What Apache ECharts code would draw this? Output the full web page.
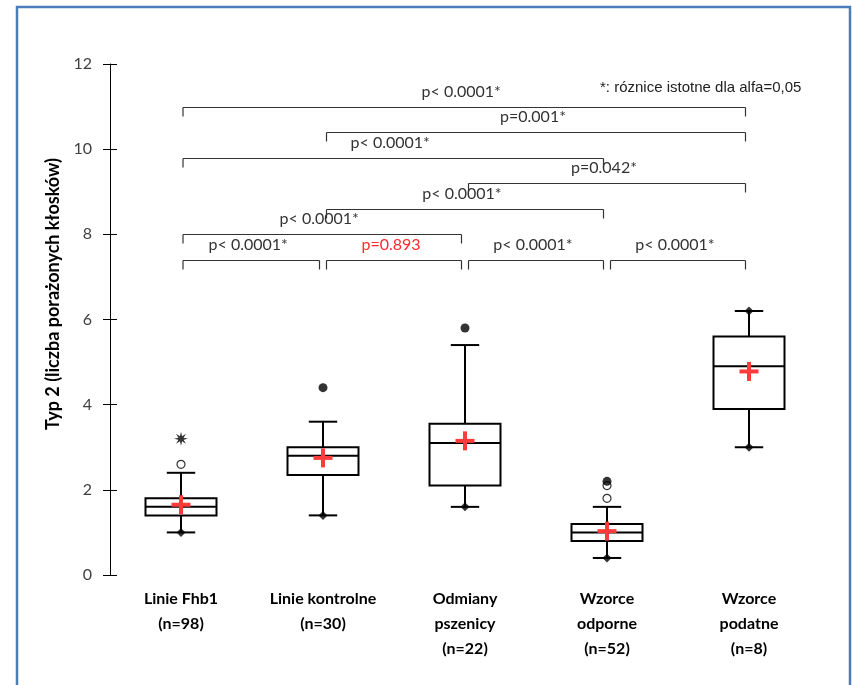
<!DOCTYPE html>
<html>
<head>
<meta charset="utf-8">
<script src="https://cdn.jsdelivr.net/npm/echarts@6/dist/echarts.min.js"></script>
<style>html,body{margin:0;padding:0;background:#fff}#c{width:852px;height:685px}</style>
</head>
<body>
<div id="c"></div>
<script>
// ---- data ----
const categories = ['Linie Fhb1\n(n=98)', 'Linie kontrolne\n(n=30)', 'Odmiany\npszenicy\n(n=22)', 'Wzorce\nodporne\n(n=52)', 'Wzorce\npodatne\n(n=8)'];
const whiskerLow  = [1.0, 1.4, 1.6, 0.4, 3.0];
const q1          = [1.4, 2.35, 2.1, 0.8, 3.9];
const median      = [1.6, 2.8, 3.1, 1.0, 4.9];
const q3          = [1.8, 3.0, 3.55, 1.2, 5.6];
const whiskerHigh = [2.4, 3.6, 5.4, 1.6, 6.2];
const means       = [1.65, 2.75, 3.15, 1.03, 4.78];
const minMaxPoints   = [[0, 1.0], [1, 1.4], [2, 1.6], [3, 0.4], [4, 3.0], [4, 6.2]];
const openOutliers   = [[0, 2.6], [3, 1.8], [3, 2.1]];
const filledOutliers = [[1, 4.4], [2, 5.8], [3, 2.2]];
const starOutliers   = [[0, 3.2]];
const yTicks = [0, 2, 4, 6, 8, 10, 12];

const bracketFrom   = [0, 1, 0, 2, 1, 0, 0, 1, 2, 3];
const bracketTo     = [4, 4, 3, 4, 3, 2, 1, 2, 3, 4];
const bracketLevel  = [11.0, 10.4, 9.8, 9.2, 8.6, 8.0, 7.4, 7.4, 7.4, 7.4];
const bracketLabels = ['p< 0.0001*', 'p=0.001*', 'p< 0.0001*', 'p=0.042*', 'p< 0.0001*', 'p< 0.0001*', 'p< 0.0001*', 'p=0.893', 'p< 0.0001*', 'p< 0.0001*'];
const bracketSignif = [true, true, true, true, true, true, true, false, true, true];

const yTitle = 'Typ 2 (liczba porażonych kłosków)';
const footnote = '*: róznice istotne dla alfa=0,05';

// ---- build ----
const boxData = categories.map((c, i) => [i, whiskerLow[i], q1[i], median[i], q3[i], whiskerHigh[i], means[i]]);
const bracketData = bracketFrom.map((f, i) => [f, bracketTo[i], bracketLevel[i], i]);

function starPath() {
  let d = '';
  for (let k = 0; k < 16; k++) {
    const a = k * Math.PI / 8;
    const r = (k % 2 === 0) ? 10 : 4;
    const x = (10 + r * Math.cos(a)).toFixed(2), y = (10 + r * Math.sin(a)).toFixed(2);
    d += (k === 0 ? 'M' : 'L') + x + ' ' + y + ' ';
  }
  return 'path://' + d + 'Z';
}

const chart = echarts.init(document.getElementById('c'), null, {renderer: 'canvas'});
const LAB = '#404040';
chart.setOption({
  animation: false,
  grid: {left: 110, right: 32, top: 64, bottom: 110},
  xAxis: {
    type: 'category', data: categories, boundaryGap: true,
    axisLine: {show: false}, axisTick: {show: false},
    axisLabel: {interval: 0, color: '#000', fontFamily: 'Lato', fontWeight: 'bold', fontSize: 16, lineHeight: 25, margin: 11}
  },
  yAxis: [{
    type: 'value', min: 0, max: 12, interval: 2,
    axisLine: {show: true, lineStyle: {color: '#000', width: 1}},
    axisTick: {show: true, length: 7, lineStyle: {color: '#000'}},
    axisLabel: {color: LAB, fontFamily: 'Lato', fontSize: 16, margin: 18,
      formatter: v => (yTicks.indexOf(v) >= 0 ? String(v) : '')},
    splitLine: {show: false}
  }, {
    type: 'value', min: 0, max: 12, interval: 2, position: 'left',
    axisLine: {show: false},
    axisTick: {show: true, inside: true, length: 7, lineStyle: {color: '#000'}},
    axisLabel: {show: false}, splitLine: {show: false}
  }],
  graphic: [
    {type: 'rect', shape: {x: 17, y: 7, width: 833, height: 720}, style: {fill: 'none', stroke: '#4a7ebb', lineWidth: 2.5}, silent: true},
    {type: 'text', x: 53, y: 294, rotation: Math.PI / 2,
      style: {text: yTitle, fontFamily: 'Lato', fontWeight: 'bold', fontSize: 18, fill: '#000', align: 'center', verticalAlign: 'middle'}},
    {type: 'text', x: 600, y: 88,
      style: {text: footnote, fontFamily: 'Liberation Sans', fontSize: 15, fill: '#222', align: 'left', verticalAlign: 'middle'}}
  ],
  series: [
    {
      type: 'custom', data: boxData, z: 3,
      encode: {x: 0, y: [1, 2, 3, 4, 5]},
      renderItem: function (params, api) {
        const i = api.value(0);
        const band = api.size([1, 0])[0];
        const bw = band * 0.5, cw = band * 0.2;
        const lo = api.coord([i, api.value(1)]), b1 = api.coord([i, api.value(2)]),
              md = api.coord([i, api.value(3)]), b3 = api.coord([i, api.value(4)]),
              hi = api.coord([i, api.value(5)]), mn = api.coord([i, api.value(6)]);
        const x = lo[0];
        const ls = {stroke: '#000', lineWidth: 2};
        const red = '#ff3b3b';
        return {type: 'group', children: [
          {type: 'line', shape: {x1: x, y1: b3[1], x2: x, y2: hi[1]}, style: ls},
          {type: 'line', shape: {x1: x, y1: b1[1], x2: x, y2: lo[1]}, style: ls},
          {type: 'line', shape: {x1: x - cw / 2, y1: hi[1], x2: x + cw / 2, y2: hi[1]}, style: ls},
          {type: 'line', shape: {x1: x - cw / 2, y1: lo[1], x2: x + cw / 2, y2: lo[1]}, style: ls},
          {type: 'rect', shape: {x: x - bw / 2, y: b3[1], width: bw, height: b1[1] - b3[1]}, style: {fill: '#fff', stroke: '#000', lineWidth: 2}},
          {type: 'line', shape: {x1: x - bw / 2, y1: md[1], x2: x + bw / 2, y2: md[1]}, style: ls},
          {type: 'rect', shape: {x: x - 9.5, y: mn[1] - 2, width: 19, height: 4}, style: {fill: red}},
          {type: 'rect', shape: {x: x - 2, y: mn[1] - 9.5, width: 4, height: 19}, style: {fill: red}}
        ]};
      }
    },
    {
      type: 'custom', data: bracketData, z: 2,
      encode: {x: [0, 1], y: 2},
      renderItem: function (params, api) {
        const f = api.value(0), t = api.value(1), lv = api.value(2), idx = api.value(3);
        const p1 = api.coord([f, lv]), p2 = api.coord([t, lv]);
        const x1 = p1[0] + (f === 0 ? 2 : 3.5), x2 = p2[0] - 3.5, y = Math.round(p1[1]) + 0.5;
        const ls = {stroke: '#333', lineWidth: 1.2};
        return {type: 'group', children: [
          {type: 'line', shape: {x1: x1, y1: y, x2: x2, y2: y}, style: ls},
          {type: 'line', shape: {x1: x1, y1: y, x2: x1, y2: y + 9}, style: ls},
          {type: 'line', shape: {x1: x2, y1: y, x2: x2, y2: y + 9}, style: ls},
          {type: 'text', x: (x1 + x2) / 2 - 3, y: y - 16, z2: 5,
            style: {text: bracketLabels[idx], fontFamily: 'Lato', fontSize: 16,
              fill: bracketSignif[idx] ? '#333' : '#ff2a2a', align: 'center', verticalAlign: 'middle'}}
        ]};
      }
    },
    {type: 'scatter', data: minMaxPoints, symbol: 'diamond', symbolSize: 9, z: 4,
      itemStyle: {color: '#000'}},
    {type: 'scatter', data: openOutliers, symbol: 'circle', symbolSize: 8, z: 4,
      itemStyle: {color: '#fff', borderColor: '#000', borderWidth: 1.2}},
    {type: 'scatter', data: filledOutliers, symbol: 'circle', symbolSize: 9, z: 5,
      itemStyle: {color: '#000'}},
    {type: 'scatter', data: starOutliers, symbol: starPath(), symbolSize: 14, z: 4,
      itemStyle: {color: '#000'}}
  ]
});
</script>
</body>
</html>
